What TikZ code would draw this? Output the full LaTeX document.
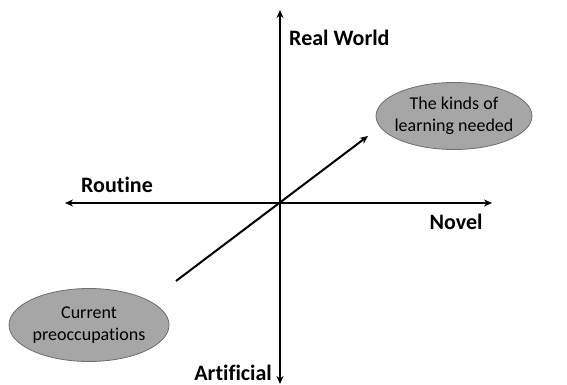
\documentclass[tikz,border=0pt]{standalone}
\usepackage{fontspec}
\setmainfont[Ligatures=NoCommon]{Carlito}
\usetikzlibrary{shapes.geometric,arrows.meta}
\definecolor{blobfill}{HTML}{A6A6A6}
\definecolor{blobline}{HTML}{6E6E6E}
\begin{document}
\begin{tikzpicture}[x=1pt,y=-1pt,
  axis/.style={line width=2pt,-{Stealth[length=8pt,width=7pt]}},
  axislabel/.style={font=\fontsize{22}{24}\selectfont\bfseries,inner sep=0pt},
  blob/.style={ellipse,draw=blobline,line width=0.8pt,fill=blobfill,inner sep=0pt},
  blobtext/.style={align=center,inner sep=0pt,font=\fontsize{18}{22}\selectfont}]
\useasboundingbox (0,0) rectangle (567,385);
% axes
\coordinate (top) at (280,10);
\coordinate (bottom) at (280,384);
\coordinate (left) at (65,203);
\coordinate (right) at (492,203);
\coordinate (origin) at (280,203);
\draw[axis] (origin) -- (top);
\draw[axis] (origin) -- (bottom);
\draw[axis] (origin) -- (left);
\draw[axis] (origin) -- (right);
% labels
\node[axislabel,anchor=west] (rw) at (289,38) {Real World};
\node[axislabel] (rt) at (117,185) {Routine};
\node[axislabel] (nv) at (456,222) {Novel};
\node[axislabel,anchor=base east] (af) at (272,380) {Artificial};
% ellipses with their captions
\node[blob,minimum width=156pt,minimum height=67pt] (need) at (454,116) {};
\node[blobtext] (needtext) at (need.center) {The kinds of\\learning needed};
\node[blob,minimum width=160pt,minimum height=73pt] (curr) at (89,325) {};
\node[blobtext] (currtext) at (curr.center) {Current\\preoccupations};
% direction of change
\coordinate (start) at (176,281);
\coordinate (finish) at (368,136);
\draw[axis] (start) -- (finish);
\end{tikzpicture}
\end{document}
